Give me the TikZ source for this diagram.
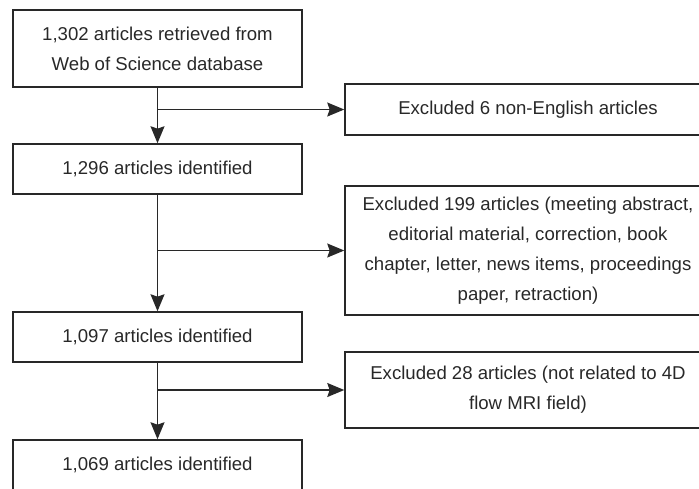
\documentclass[tikz,border=0pt]{standalone}
\usepackage{fontspec}
\setmainfont{Liberation Sans}
\definecolor{flowink}{RGB}{40,40,40}
\usetikzlibrary{arrows.meta,positioning}

\begin{document}
\begin{tikzpicture}[x=0.5pt,y=-0.5pt,
  flowbox/.style={draw=flowink,line width=0.75pt,minimum width=144.5pt,minimum height=25pt,
    align=center,font=\fontsize{9.3}{15}\selectfont,text=flowink,inner sep=2pt},
  exclbox/.style={flowbox,minimum width=183pt},
  flowarr/.style={-{Stealth[length=8.5pt,width=7pt,inset=1.2pt]},line width=0.75pt,flowink}
]
  \useasboundingbox (0,0) rectangle (699,488);
  \clip (0,0) rectangle (699,488);

  % Main stream
  \node[flowbox,minimum height=38.5pt] (retrieved) at (157.5,48.5) {
    1,302 articles retrieved from\\Web of Science database};
  \node[flowbox] (ident1) at (157.5,169) {1,296 articles identified};
  \node[flowbox] (ident2) at (157.5,337) {1,097 articles identified};
  \node[flowbox] (ident3) at (157.5,465) {1,069 articles identified};

  % Exclusions
  \node[exclbox,minimum height=25.5pt] (excl1) at (528,109.5) {
    Excluded 6 non-English articles};
  \node[exclbox,minimum height=64.5pt] (excl2) at (528,250.5) {
    Excluded 199 articles (meeting abstract,\\
    editorial material, correction, book\\
    chapter, letter, news items, proceedings\\
    paper, retraction)};
  \node[exclbox,minimum height=38pt] (excl3) at (528,390) {
    Excluded 28 articles (not related to 4D\\flow MRI field)};

  % Arrows down
  \draw[flowarr] (retrieved.south) -- (ident1.north);
  \draw[flowarr] (ident1.south) -- (ident2.north);
  \draw[flowarr] (ident2.south) -- (ident3.north);

  % Arrows to exclusions
  \draw[flowarr] (retrieved.south |- excl1.west) -- (excl1.west);
  \draw[flowarr] (ident1.south |- excl2.west) -- (excl2.west);
  \draw[flowarr] (ident2.south |- excl3.west) -- (excl3.west);
\end{tikzpicture}
\end{document}
